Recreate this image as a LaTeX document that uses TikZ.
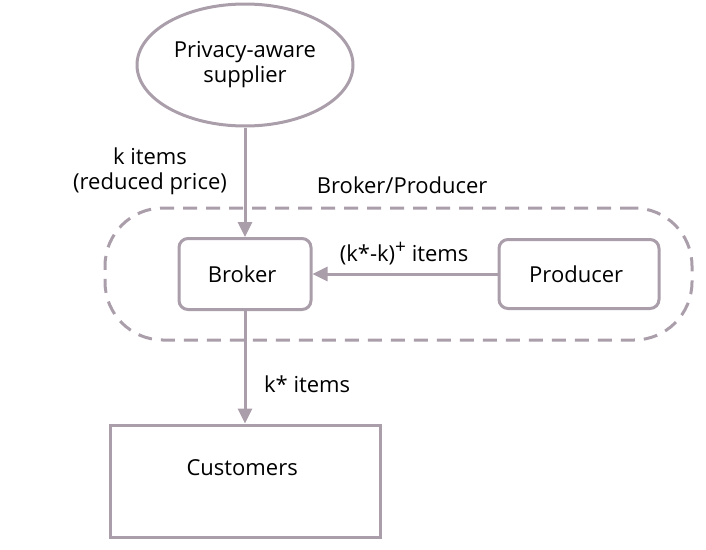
\documentclass[tikz,border=0pt]{standalone}
\usepackage{fontspec}
\setmainfont{Open Sans}
\usetikzlibrary{arrows.meta,shapes.geometric}
\usepackage{xcolor}
\definecolor{flowgrey}{RGB}{170,158,170}

\begin{document}
\begin{tikzpicture}[x=1pt, y=-1pt,
    every node/.style={
        align=center,
        font=\fontsize{22}{25}\selectfont
    },
    actor/.style={
        draw=flowgrey,
        line width=3pt,
        fill=white
    },
    flow/.style={
        draw=flowgrey,
        line width=3pt,
        -{Triangle[length=15pt,width=14pt]}
    }]

    \useasboundingbox (0,0) rectangle (706,549);

    % dashed group
    \node (broker_producer) [draw=flowgrey, line width=3pt, dash pattern=on 14pt off 9pt,
        rounded corners=58pt, minimum width=587pt, minimum height=132pt, shift={(398.5,274)}]
    {};

    \node (broker_producer_label) [shift={(405,185)}]
    {
        Broker/Producer
    };



    \node (supplier) [actor, ellipse, minimum width=216pt, minimum height=122pt, shift={(245,65)}]
    {
        Privacy-aware\\supplier
    };

    \node (broker) [actor, rounded corners=9pt, minimum width=132pt, minimum height=71pt, shift={(245,274)}]
    {
        Broker
    };

    \node (producer) [actor, rounded corners=9pt, minimum width=160pt, minimum height=69pt, shift={(579,274)}]
    {
        Producer
    };

    \node (customers) [actor, minimum width=270pt, minimum height=112pt, text depth=26pt, shift={(245,481)}]
    {
        Customers
    };



    \node (k_items_label) [shift={(150,171)}]
    {
        k items\\(reduced price)
    };

    \node (missing_items_label) [shift={(407,254)}]
    {
        (k*-k)\raisebox{8pt}{\fontsize{19}{19}\selectfont +} items
    };

    \node (star_items_label) [shift={(310,384)}]
    {
        k* items
    };


    \draw[flow] (supplier) to (broker);
    \draw[flow] (producer) to (broker);
    \draw[flow] (broker) to (customers);

\end{tikzpicture}
\end{document}
